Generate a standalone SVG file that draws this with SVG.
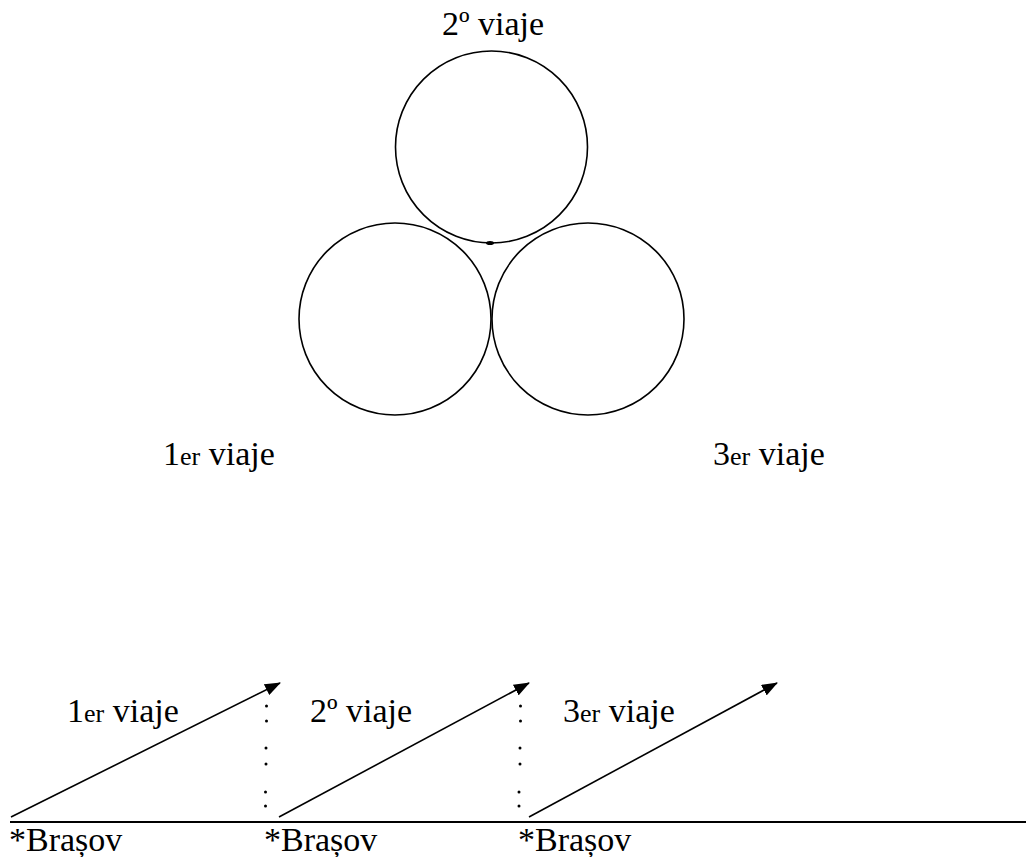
<svg xmlns="http://www.w3.org/2000/svg" width="1026" height="857" viewBox="0 0 1026 857">
<defs>
<marker id="ah" markerWidth="16" markerHeight="12" refX="15" refY="6" orient="auto" markerUnits="userSpaceOnUse">
<path d="M0,0 L16,6 L0,12 Z" fill="#000"/>
</marker>
</defs>
<rect width="1026" height="857" fill="#fff"/>
<g id="trip2-top">
<circle fill="none" stroke="#000" stroke-width="1.6" cx="491.5" cy="147" r="96"/>
<ellipse fill="#000" cx="490" cy="243" rx="4" ry="2"/>
<text font-family="Times New Roman" font-size="34" x="442" y="35">2&#186; viaje</text>
</g>
<g id="trip1-circle">
<circle fill="none" stroke="#000" stroke-width="1.6" cx="395" cy="319" r="96"/>
<text font-family="Times New Roman" font-size="34" x="163" y="465">1<tspan font-size="26">er</tspan> viaje</text>
</g>
<g id="trip3-circle">
<circle fill="none" stroke="#000" stroke-width="1.6" cx="588" cy="319" r="96"/>
<text font-family="Times New Roman" font-size="34" x="713" y="465">3<tspan font-size="26">er</tspan> viaje</text>
</g>
<g id="baseline">
<line x1="10" y1="822" x2="1026" y2="822" stroke="#000" stroke-width="2"/>
<text font-family="Times New Roman" font-size="34" x="9" y="851">*Bra&#537;ov</text>
<text font-family="Times New Roman" font-size="34" x="264" y="851">*Bra&#537;ov</text>
<text font-family="Times New Roman" font-size="34" x="518" y="851">*Bra&#537;ov</text>
</g>
<g id="connectors" stroke="#000" stroke-width="1.6" fill="none">
<line marker-end="url(#ah)" x1="11" y1="817" x2="280" y2="683"/>
<line marker-end="url(#ah)" x1="279" y1="817" x2="529" y2="683"/>
<line marker-end="url(#ah)" x1="529" y1="817" x2="777" y2="683"/>
</g>
<g id="arrow-labels">
<text font-family="Times New Roman" font-size="34" x="67" y="722">1<tspan font-size="26">er</tspan> viaje</text>
<text font-family="Times New Roman" font-size="34" x="310" y="722">2&#186; viaje</text>
<text font-family="Times New Roman" font-size="34" x="563" y="722">3<tspan font-size="26">er</tspan> viaje</text>
</g>
<g id="dots" fill="#000">
<circle cx="266.5" cy="706" r="1.5"/><circle cx="266.5" cy="721" r="1.5"/>
<circle cx="266" cy="748" r="1.5"/><circle cx="266" cy="764" r="1.5"/>
<circle cx="265.5" cy="792" r="1.5"/><circle cx="265.5" cy="806" r="1.5"/>
<circle cx="520.5" cy="706" r="1.5"/><circle cx="520.5" cy="721" r="1.5"/>
<circle cx="520" cy="748" r="1.5"/><circle cx="520" cy="764" r="1.5"/>
<circle cx="519" cy="792" r="1.5"/><circle cx="519" cy="806" r="1.5"/>
</g>
</svg>
